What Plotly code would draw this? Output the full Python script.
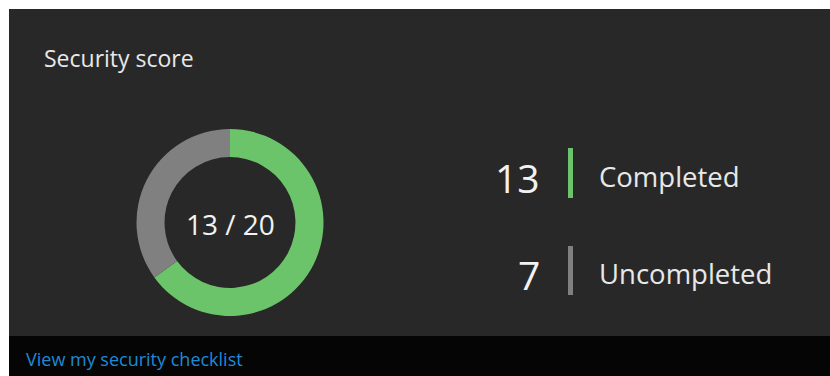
import plotly.graph_objects as go

# Security score data
labels = ["Completed", "Uncompleted"]
values = [13, 7]
colors = ["#6cc46a", "#808080"]
title_text = "Security score"
link_text = "View my security checklist"

W, H = 830, 376
FONT = "Segoe UI, Open Sans, sans-serif"


def px(x):
    return x / W


def py(y):
    return 1 - y / H


total = sum(values)

fig = go.Figure()

# Donut centred at (230, 222) with ~93 px outer radius
cx, cy, r = 230, 222.5, 93.5
fig.add_trace(go.Pie(
    labels=labels,
    values=values,
    sort=False,
    direction="clockwise",
    rotation=0,
    hole=0.70,
    marker=dict(colors=colors, line=dict(width=0)),
    textinfo="none",
    hoverinfo="label+value",
    showlegend=False,
    domain=dict(x=[px(cx - r), px(cx + r)], y=[py(cy + r), py(cy - r)]),
))

shapes = [
    # card body
    dict(type="rect", xref="paper", yref="paper", x0=px(9), x1=1, y0=py(336), y1=py(9),
         fillcolor="#282828", line=dict(width=0), layer="below"),
    # footer strip
    dict(type="rect", xref="paper", yref="paper", x0=px(9), x1=1, y0=0, y1=py(336),
         fillcolor="#050505", line=dict(width=0), layer="below"),
]


def note(text, x, y, anchor, size, color):
    return dict(text=text, x=px(x), y=py(y), xref="paper", yref="paper",
                xanchor=anchor, yanchor="middle", showarrow=False,
                font=dict(family=FONT, size=size, color=color))


annotations = [
    note(title_text, 42, 58, "left", 23, "#e8e8e8"),
    note(f"{values[0]} / {total}", cx, 224, "center", 28, "#f2f2f2"),
    note(link_text, 24, 359, "left", 18, "#1e8ad6"),
]

# Legend rows: value, coloured bar, label
rows_y = [176, 273]
bar_spans = [(148, 198), (246, 295)]
for val, lab, col, yc, (b0, b1) in zip(values, labels, colors, rows_y, bar_spans):
    annotations.append(note(str(val), 542, yc + 1, "right", 39, "#f2f2f2"))
    annotations.append(note(lab, 597, yc, "left", 27.5, "#e8e8e8"))
    shapes.append(dict(type="rect", xref="paper", yref="paper", x0=px(568), x1=px(573),
                       y0=py(b1), y1=py(b0), fillcolor=col, line=dict(width=0)))

fig.update_layout(
    width=W, height=H,
    margin=dict(l=0, r=0, t=0, b=0),
    paper_bgcolor="#ffffff",
    plot_bgcolor="#ffffff",
    shapes=shapes,
    annotations=annotations,
)

fig.write_html("out.html")
